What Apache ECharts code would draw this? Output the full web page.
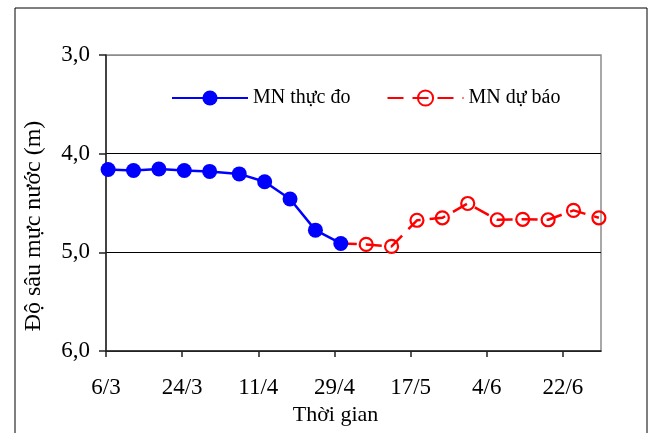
<!DOCTYPE html>
<html>
<head>
<meta charset="utf-8">
<script src="https://cdn.jsdelivr.net/npm/echarts@6/dist/echarts.min.js"></script>
<style>
  html, body { margin: 0; padding: 0; background: #fff; }
  #chart { width: 653px; height: 433px; }
</style>
</head>
<body>
<div id="chart"></div>
<script>
// ---- data ----
var dates = ['6/3','12/3','18/3','24/3','30/3','6/4','12/4','18/4','24/4','30/4',
             '6/5','12/5','18/5','24/5','30/5','6/6','12/6','18/6','24/6','30/6'];
var measured = [4.16, 4.17, 4.155, 4.17, 4.18, 4.205, 4.285, 4.46, 4.775, 4.91,
                null, null, null, null, null, null, null, null, null, null];
var forecast = [null, null, null, null, null, null, null, null, null, 4.91,
                4.92, 4.94, 4.675, 4.65, 4.505, 4.67, 4.665, 4.67, 4.575, 4.65];
var xTickLabels = ['6/3','24/3','11/4','29/4','17/5','4/6','22/6'];
var yTicks = [3, 4, 5, 6];
var seriesNames = ['MN thực đo', 'MN dự báo'];
var xTitle = 'Thời gian';
var yTitle = 'Độ sâu mực nước (m)';

// day offset from the first date
function dayOf(s) {
  var p = s.split('/');
  var base = Date.UTC(2021, 2, 6);
  return Math.round((Date.UTC(2021, +p[1] - 1, +p[0]) - base) / 86400000);
}
var xMax = dayOf(dates[dates.length - 1]) + 1;
var tickDays = xTickLabels.map(dayOf);
var labelByDay = {};
xTickLabels.forEach(function (l) { labelByDay[dayOf(l)] = l; });

function pairs(vals, skipFirstMarker) {
  var out = [];
  var first = true;
  vals.forEach(function (v, i) {
    if (v === null) return;
    var item = { value: [dayOf(dates[i]) + 0.5, v] };
    if (skipFirstMarker && first) { item.symbol = 'none'; }
    first = false;
    out.push(item);
  });
  return out;
}

var FONT = '"Liberation Serif", "Times New Roman", serif';

var chart = echarts.init(document.getElementById('chart'), null, { renderer: 'canvas' });
chart.setOption({
  backgroundColor: '#ffffff',
  animation: false,
  textStyle: { fontFamily: FONT, color: '#000' },
  graphic: [{
    type: 'rect',
    shape: { x: 15, y: 8, width: 632, height: 440 },
    style: { fill: 'none', stroke: '#000', lineWidth: 1 },
    silent: true
  }],
  grid: {
    left: 106, top: 55, right: 52, bottom: 82,
    show: true, borderColor: '#8c8c8c', borderWidth: 1.5, backgroundColor: 'transparent'
  },
  legend: {
    left: 171, top: 88, padding: 0,
    itemWidth: 76, itemHeight: 19, itemGap: 36,
    textStyle: { fontFamily: FONT, fontSize: 20, color: '#000' },
    data: seriesNames
  },
  xAxis: {
    type: 'value',
    min: 0, max: xMax,
    name: xTitle,
    nameLocation: 'middle',
    nameGap: 52,
    nameTextStyle: { fontFamily: FONT, fontSize: 22, color: '#000', padding: [0, 36, 0, 0] },
    axisLine: { show: true, lineStyle: { color: '#222', width: 1.5 } },
    axisTick: { show: true, inside: false, length: 6, customValues: tickDays, lineStyle: { color: '#222', width: 1.5 } },
    axisLabel: {
      customValues: tickDays,
      margin: 25, fontSize: 23, fontFamily: FONT, color: '#000',
      formatter: function (v) { return labelByDay[Math.round(v)] || ''; }
    },
    splitLine: { show: false }
  },
  yAxis: {
    type: 'value',
    inverse: true,
    min: yTicks[0], max: yTicks[yTicks.length - 1], interval: 1,
    name: yTitle,
    nameLocation: 'middle',
    nameGap: 60,
    nameRotate: 90,
    nameTextStyle: { fontFamily: FONT, fontSize: 24, color: '#000', padding: [0, 46, 0, 0] },
    axisLine: { show: true, lineStyle: { color: '#222', width: 1.5 } },
    axisTick: { show: true, inside: false, length: 7, lineStyle: { color: '#222', width: 1.5 } },
    axisLabel: {
      margin: 16, fontSize: 23, fontFamily: FONT, color: '#000',
      formatter: function (v) { return v.toFixed(1).replace('.', ','); }
    },
    splitLine: { show: true, lineStyle: { color: ['#8c8c8c', '#000', '#000', '#222'], width: 1 } }
  },
  series: [
    {
      name: seriesNames[0],
      type: 'line',
      z: 5,
      data: pairs(measured, false),
      symbol: 'circle',
      symbolSize: 15,
      itemStyle: { color: '#0000ff' },
      lineStyle: { color: '#0000ff', width: 2.5 }
    },
    {
      name: seriesNames[1],
      type: 'line',
      z: 3,
      data: pairs(forecast, true),
      symbol: 'circle',
      symbolSize: 13,
      showAllSymbol: true,
      itemStyle: { color: 'rgba(255,255,255,0)', borderColor: '#ff0000', borderWidth: 2.2 },
      lineStyle: { color: '#ff0000', width: 2.5, type: [16, 9] }
    }
  ]
});
</script>
</body>
</html>
